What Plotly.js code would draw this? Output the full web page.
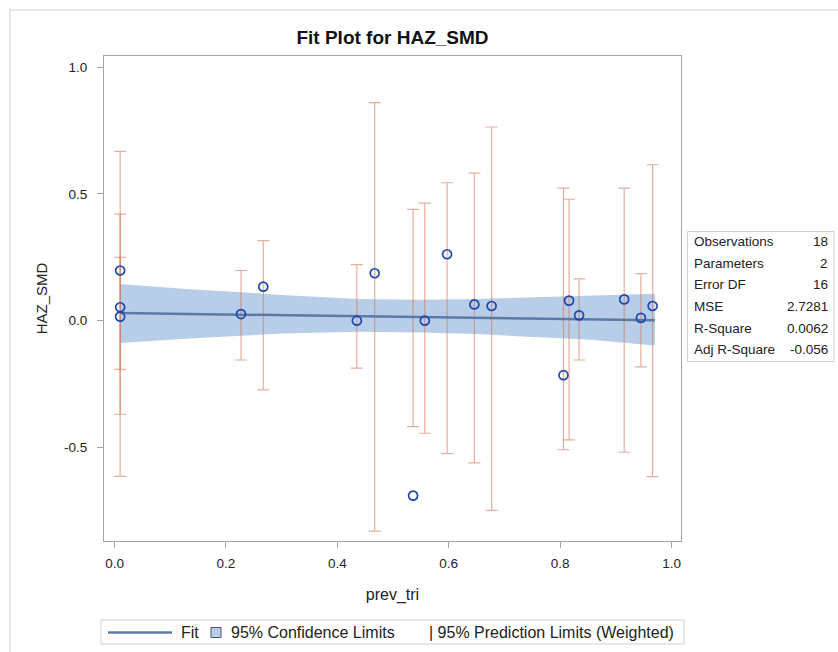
<!DOCTYPE html>
<html>
<head>
<meta charset="utf-8">
<script src="https://cdn.plot.ly/plotly-3.0.1.min.js"></script>
<style>
  html, body { margin: 0; padding: 0; background: #fff; }
  #chart { width: 838px; height: 652px; }
</style>
</head>
<body>
<div id="chart"></div>
<script>
// Observations: predictor, response, and weighted 95% prediction limits
const obsX = [0.01, 0.01, 0.01, 0.227, 0.267, 0.435, 0.467, 0.536, 0.557, 0.597, 0.646, 0.677, 0.806, 0.816, 0.834, 0.915, 0.945, 0.966];
const obsY = [0.198, 0.053, 0.016, 0.026, 0.134, 0.000, 0.187, -0.690, 0.000, 0.262, 0.064, 0.058, -0.215, 0.079, 0.021, 0.084, 0.011, 0.058];
const predUpper = [0.668, 0.420, 0.250, 0.198, 0.316, 0.221, 0.860, 0.439, 0.464, 0.544, 0.582, 0.764, 0.523, 0.479, 0.165, 0.523, 0.186, 0.615];
const predLower = [-0.614, -0.369, -0.192, -0.155, -0.273, -0.187, -0.830, -0.418, -0.444, -0.524, -0.561, -0.748, -0.509, -0.470, -0.155, -0.519, -0.182, -0.615];

// Fitted line and its 95% confidence band
const fitX = [0.01, 0.97];
const fitY = [0.030, 0.002];
const bandX = [0.01, 0.135, 0.23, 0.30, 0.44, 0.55, 0.65, 0.75, 0.85, 0.97];
const bandUpper = [0.145, 0.124, 0.112, 0.101, 0.086, 0.083, 0.086, 0.092, 0.097, 0.106];
const bandLower = [-0.088, -0.070, -0.058, -0.051, -0.044, -0.047, -0.053, -0.064, -0.074, -0.098];

// Fit statistics panel
const statLabels = ["Observations", "Parameters", "Error DF", "MSE", "R-Square", "Adj R-Square"];
const statValues = ["18", "2", "16", "2.7281", "0.0062", "-0.056"];

// Legend entries
const legendFit = "Fit";
const legendConf = "95% Confidence Limits";
const legendPred = "| 95% Prediction Limits (Weighted)";

const xTicks = [0, 0.2, 0.4, 0.6, 0.8, 1.0];
const xTickText = ["0.0", "0.2", "0.4", "0.6", "0.8", "1.0"];
const yTicks = [-0.5, 0, 0.5, 1.0];
const yTickText = ["-0.5", "0.0", "0.5", "1.0"];

const FONT = "Liberation Sans, Arial, Helvetica, sans-serif";
const TEXT = "#222222";
const FIT_COLOR = "rgb(92,122,166)";
const BAND_COLOR = "rgb(184,206,232)";
const PRED_COLOR = "rgba(210,115,85,0.58)";
const POINT_COLOR = "rgb(30,70,175)";
const FRAME = "rgb(160,164,168)";

const W = 838, H = 652;
const M = { l: 104, r: 157, t: 56, b: 111 };
const PW = W - M.l - M.r, PH = H - M.t - M.b;
// pixel position on the page -> paper coordinates
const px = x => (x - M.l) / PW;
const py = y => (H - M.b - y) / PH;

const predMid = predUpper.map((u, i) => (u + predLower[i]) / 2);

const traces = [
  {
    x: bandX.concat(bandX.slice().reverse()),
    y: bandUpper.concat(bandLower.slice().reverse()),
    type: "scatter", mode: "lines", fill: "toself",
    fillcolor: BAND_COLOR, line: { width: 0, color: BAND_COLOR },
    hoverinfo: "skip", showlegend: false
  },
  {
    x: obsX, y: predMid,
    type: "scatter", mode: "markers",
    marker: { size: 1, opacity: 0 },
    error_y: {
      type: "data", symmetric: false,
      array: predUpper.map((u, i) => u - predMid[i]),
      arrayminus: predLower.map((l, i) => predMid[i] - l),
      color: PRED_COLOR, thickness: 1.2, width: 6
    },
    hoverinfo: "skip", showlegend: false
  },
  {
    x: fitX, y: fitY,
    type: "scatter", mode: "lines",
    line: { color: FIT_COLOR, width: 2.5 },
    showlegend: false
  },
  {
    x: obsX, y: obsY,
    type: "scatter", mode: "markers",
    marker: { symbol: "circle-open", size: 9, color: POINT_COLOR, line: { width: 1.7, color: POINT_COLOR } },
    showlegend: false
  }
];

const shapes = [
  // outer frame edges
  { type: "line", xref: "paper", yref: "paper", x0: px(9), x1: px(838), y0: py(10), y1: py(10), line: { color: "#d2d2d2", width: 1 } },
  { type: "line", xref: "paper", yref: "paper", x0: px(10), x1: px(10), y0: py(10), y1: py(652), line: { color: "#d2d2d2", width: 1 } },
  // statistics panel border
  { type: "rect", xref: "paper", yref: "paper", x0: px(687.5), x1: px(834), y0: py(231.5), y1: py(361.5), line: { color: "#cfcfcf", width: 1 } },
  // legend border
  { type: "rect", xref: "paper", yref: "paper", x0: px(101), x1: px(684), y0: py(620), y1: py(644), line: { color: "#cfcfcf", width: 1 } },
  // legend: fit line sample
  { type: "line", xref: "paper", yref: "paper", x0: px(108), x1: px(172), y0: py(632.5), y1: py(632.5), line: { color: FIT_COLOR, width: 2.5 } },
  // legend: confidence swatch
  { type: "rect", xref: "paper", yref: "paper", x0: px(211), x1: px(221), y0: py(627.5), y1: py(637.5), fillcolor: BAND_COLOR, line: { color: "#4a5566", width: 1 } }
];

const annotations = [];
statLabels.forEach((lab, i) => {
  const yy = py(241.7 + i * 21.6);
  annotations.push({ xref: "paper", yref: "paper", x: px(692), y: yy, xanchor: "left", yanchor: "middle",
    text: lab, showarrow: false, font: { family: FONT, size: 13.5, color: TEXT } });
  annotations.push({ xref: "paper", yref: "paper", x: px(830), y: yy, xanchor: "right", yanchor: "middle",
    text: statValues[i], showarrow: false, font: { family: FONT, size: 13.5, color: TEXT } });
});
[[legendFit, 179], [legendConf, 229], [legendPred, 427]].forEach(([t, x]) => {
  annotations.push({ xref: "paper", yref: "paper", x: px(x), y: py(632), xanchor: "left", yanchor: "middle",
    text: t, showarrow: false, font: { family: FONT, size: 16, color: TEXT } });
});

const layout = {
  width: W, height: H,
  margin: M,
  paper_bgcolor: "#ffffff", plot_bgcolor: "#ffffff",
  showlegend: false,
  title: {
    text: "Fit Plot for HAZ_SMD",
    font: { family: FONT, size: 19, color: "#111", weight: 700 },
    x: px(392.5), xref: "paper", xanchor: "center",
    y: 1 - 37 / H, yref: "container", yanchor: "middle"
  },
  xaxis: {
    range: [-0.019, 1.017],
    tickvals: xTicks, ticktext: xTickText,
    ticks: "outside", ticklen: 6, tickcolor: FRAME, tickwidth: 1,
    ticklabelstandoff: 4,
    showline: true, linecolor: FRAME, linewidth: 1, mirror: true,
    showgrid: false, zeroline: false,
    tickfont: { family: FONT, size: 13.5, color: TEXT },
    title: { text: "prev_tri", font: { family: FONT, size: 16, color: TEXT }, standoff: 18 }
  },
  yaxis: {
    range: [-0.869, 1.044],
    tickvals: yTicks, ticktext: yTickText,
    ticks: "outside", ticklen: 6, tickcolor: FRAME, tickwidth: 1,
    ticklabelstandoff: 7,
    showline: true, linecolor: FRAME, linewidth: 1, mirror: true,
    showgrid: false, zeroline: false,
    tickfont: { family: FONT, size: 13.5, color: TEXT },
    title: { text: "HAZ_SMD", font: { family: FONT, size: 15, color: TEXT }, standoff: 12 }
  },
  shapes: shapes,
  annotations: annotations
};

Plotly.newPlot("chart", traces, layout, { displayModeBar: false, staticPlot: true });
</script>
</body>
</html>
